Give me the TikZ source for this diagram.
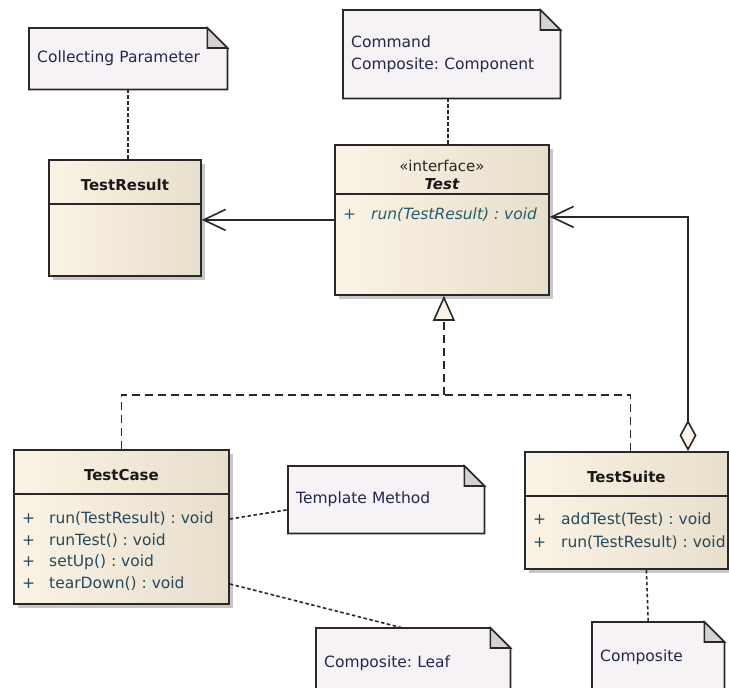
\documentclass[tikz,border=0pt]{standalone}
\usepackage{fontspec}
\setmainfont{DejaVu Sans}
\frenchspacing
\usetikzlibrary{positioning,calc,arrows.meta,shadows}

\definecolor{classleft}{RGB}{251,243,229}
\definecolor{classright}{RGB}{232,222,204}
\definecolor{notefill}{RGB}{246,242,246}
\definecolor{foldgray}{RGB}{212,208,212}
\definecolor{linegray}{RGB}{40,40,40}
\definecolor{optext}{RGB}{38,72,92}
\definecolor{opitalic}{RGB}{40,92,112}
\definecolor{notetext}{RGB}{35,40,75}

\tikzset{
  classbox/.style={draw=linegray, line width=1.8pt, left color=classleft, right color=classright,
    anchor=north west, inner sep=0pt,
    drop shadow={shadow xshift=4pt, shadow yshift=-4pt, fill=black!22, opacity=1}},
  classname/.style={font=\fontsize{15}{22}\selectfont\bfseries, text=black!90, inner sep=0pt},
  stereo/.style={font=\fontsize{15}{22}\selectfont, text=black!85, inner sep=0pt},
  operation/.style={font=\fontsize{15.5}{22}\selectfont, anchor=west, inner sep=0pt, text=optext},
  divider/.style={draw=linegray, line width=1.8pt},
  notebox/.style={anchor=north west, inner xsep=8pt, inner ysep=0pt, align=left, text=notetext,
    font=\fontsize{15.5}{22}\selectfont,
    append after command={\pgfextra{
      \filldraw[fill=notefill, draw=linegray, line width=1.8pt]
        (\tikzlastnode.north west) -- ($(\tikzlastnode.north east)+(-20,0)$)
        -- ($(\tikzlastnode.north east)+(0,20)$) -- (\tikzlastnode.south east)
        -- (\tikzlastnode.south west) -- cycle;
      \filldraw[fill=foldgray, draw=linegray, line width=1.6pt]
        ($(\tikzlastnode.north east)+(-20,0)$) -- ($(\tikzlastnode.north east)+(-20,20)$)
        -- ($(\tikzlastnode.north east)+(0,20)$) -- cycle;
    }}},
  notelink/.style={draw=linegray, line width=1.6pt, dash pattern=on 3.5pt off 2.5pt},
  realize/.style={draw=linegray, line width=1.6pt, dash pattern=on 8pt off 5pt},
  assoc/.style={draw=linegray, line width=1.6pt, -{Straight Barb[length=22pt,width=21pt]}},
  aggr/.style={draw=linegray, line width=1.6pt,
    {Diamond[length=31pt,width=17pt,fill=classleft]}-{Straight Barb[length=22pt,width=21pt]}},
}

\begin{document}
\begin{tikzpicture}[x=1pt, y=-1pt]
  \useasboundingbox (0,0) rectangle (729,688);
  \clip (0,0) rectangle (729,688);

  % notes
  \node[notebox, text width=182pt, minimum height=61pt] (paramnote) at (29,28) {Collecting Parameter};
  \node[notebox, text width=201pt, minimum height=88pt] (cmdnote) at (343,10) {Command\\Composite: Component};
  \node[notebox, text width=180pt, minimum height=67pt] (templnote) at (288,466) {Template Method};
  \node[notebox, text width=178pt, minimum height=70pt] (leafnote) at (316,628) {Composite: Leaf};
  \node[notebox, text width=116pt, minimum height=70pt] (compnote) at (592,622) {Composite};

  % TestResult
  \node[classbox, minimum width=152pt, minimum height=116pt] (result) at (48,159) {};
  \node[classname] (resultname) at ($(result.north)+(0,26)$) {TestResult};
  \draw[divider] ($(result.north west)+(0,45)$) -- ($(result.north east)+(0,45)$);

  % Test
  \node[classbox, minimum width=214pt, minimum height=150pt] (test) at (334,144) {};
  \node[stereo] (teststereo) at ($(test.north)+(0,22)$) {«interface»};
  \node[classname, font=\fontsize{15}{22}\selectfont\bfseries\itshape] (testname) at ($(test.north)+(0,40)$) {Test};
  \draw[divider] ($(test.north west)+(0,50)$) -- ($(test.north east)+(0,50)$);
  \node[operation, text=opitalic, font=\fontsize{15.5}{22}\selectfont\itshape] (testrun)
    at ($(test.north west)+(9,71)$) {\makebox[28pt][l]{+}run(TestResult) : void};

  % TestCase
  \node[classbox, minimum width=215pt, minimum height=154pt] (case) at (13,449) {};
  \node[classname] (casename) at ($(case.north)+(0,26)$) {TestCase};
  \draw[divider] ($(case.north west)+(0,45)$) -- ($(case.north east)+(0,45)$);
  \node[operation] (caserun) at ($(case.north west)+(9,70)$) {\makebox[27pt][l]{+}run(TestResult) : void};
  \node[operation] (caseruntest) at ($(case.north west)+(9,92)$) {\makebox[27pt][l]{+}runTest() : void};
  \node[operation] (casesetup) at ($(case.north west)+(9,113)$) {\makebox[27pt][l]{+}setUp() : void};
  \node[operation] (caseteardown) at ($(case.north west)+(9,135)$) {\makebox[27pt][l]{+}tearDown() : void};

  % TestSuite
  \node[classbox, minimum width=203pt, minimum height=117pt] (suite) at (524,451) {};
  \node[classname] (suitename) at ($(suite.north)+(0,26)$) {TestSuite};
  \draw[divider] ($(suite.north west)+(0,45)$) -- ($(suite.north east)+(0,45)$);
  \node[operation] (suiteadd) at ($(suite.north west)+(9,69)$) {\makebox[28pt][l]{+}addTest(Test) : void};
  \node[operation] (suiterun) at ($(suite.north west)+(9,92)$) {\makebox[28pt][l]{+}run(TestResult) : void};

  % connectors
  \coordinate (cmdfoot) at ($(cmdnote.south)+(-4,0)$);
  \coordinate (suitehook) at ($(suite.north west)+(164,0)$);
  \coordinate (suitetop) at ($(suite.north)+(4,0)$);
  \coordinate (genjoin) at ($(test.south)+(2,99)$);

  \draw[notelink] (paramnote.south) -- (paramnote.south |- result.north);
  \draw[notelink] (cmdfoot) -- (cmdfoot |- test.north);
  \draw[assoc] (test.west) -- (result.east |- test.west);
  \draw[aggr] (suitehook) |- ($(test.east)+(0,-3)$);
  \draw[realize] (case.north) |- (genjoin);
  \draw[realize] (suitetop) |- (genjoin);
  \draw[realize, -{Triangle[length=25pt,width=22pt,fill=classleft]}] (genjoin) -- (genjoin |- test.south);
  \draw[notelink] (case.east |- caserun) -- ($(templnote.west)+(0,10)$);
  \draw[notelink] (case.east |- caseteardown) -- ($(leafnote.north west)+(87,0)$);
  \draw[notelink] ($(suite.south)+(20,0)$) -- ($(compnote.north)+(-10,0)$);
\end{tikzpicture}
\end{document}
